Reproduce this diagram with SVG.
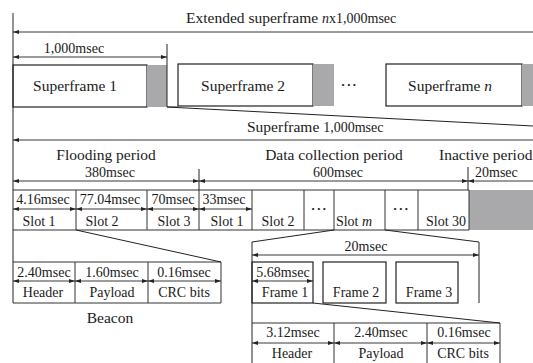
<svg xmlns="http://www.w3.org/2000/svg" width="533" height="363" viewBox="0 0 533 363" font-family="'Liberation Serif', 'DejaVu Serif', serif">
<style>
text{font-family:'Liberation Serif','DejaVu Serif',serif;fill:#1a1a1a}
.big{font-size:15.5px}
.sm{font-size:14px}
.m{text-anchor:middle}
.box{fill:#fff;stroke:#222;stroke-width:1.2}
.cell{fill:none;stroke:#333;stroke-width:1}
.gray{fill:#a9a9ab;stroke:none}
.ln{stroke:#222;stroke-width:1;fill:none}
.ar{stroke:#222;stroke-width:0.9;fill:none;marker-start:url(#ah);}
.ar2{stroke:#222;stroke-width:0.9;fill:none;marker-start:url(#ah);marker-end:url(#ah)}
.dots{font-size:9px;letter-spacing:2.5px;text-anchor:middle}
</style>
<defs>
<marker id="ah" viewBox="0 0 6 4" refX="6" refY="2" markerWidth="6" markerHeight="4" markerUnits="userSpaceOnUse" orient="auto-start-reverse">
<path d="M0,0 L6,2 L0,4 Z" fill="#222"/>
</marker>
</defs>
<rect width="533" height="363" fill="#fff"/>

<g id="extended-superframe">
<text class="big" x="186" y="23">Extended superframe <tspan class="sm" font-style="italic">n</tspan><tspan class="sm">x1,000msec</tspan></text>
</g>
<g id="superframe-length">
<text class="sm m" x="74" y="53">1,000msec</text>
</g>

<g id="superframe-1">
<rect class="box" x="13" y="65" width="134" height="42"/>
<rect class="gray" x="147" y="65" width="20" height="42"/>
<text class="big m" x="75" y="91">Superframe 1</text>
</g>
<g id="superframe-2">
<rect class="box" x="178" y="64" width="135" height="42"/>
<rect class="gray" x="313" y="64" width="21" height="42"/>
<text class="big m" x="243" y="91">Superframe 2</text>
</g>
<g id="dots-top"><text class="dots" x="350" y="88">•••</text></g>
<g id="superframe-n">
<rect class="box" x="386" y="64" width="136" height="42"/>
<rect class="gray" x="522" y="64" width="12" height="42"/>
<text class="big m" x="450" y="91">Superframe <tspan font-style="italic">n</tspan></text>
</g>

<g id="superframe-detail">
<text x="247" y="132"><tspan class="big">Superframe </tspan><tspan class="sm">1,000msec</tspan></text>
<text class="big m" x="106" y="160">Flooding period</text>
<text class="big m" x="334" y="160">Data collection period</text>
<text class="big" x="439" y="160">Inactive period</text>
<text class="sm m" x="110" y="177">380msec</text>
<text class="sm m" x="338" y="177">600msec</text>
<text class="sm" x="475" y="177">20msec</text>
</g>

<g id="slots">
<rect class="gray" x="469" y="190" width="64" height="40"/>
<path class="cell" d="M13,190 H469 V230 H13 M76,190 V230 M147,190 V230 M199,190 V230 M252,190 V230 M304,190 V230 M334,190 V230 M385,190 V230 M418,190 V230"/>
<text class="sm m" x="43" y="204">4.16msec</text>
<text class="sm m" x="110" y="204">77.04msec</text>
<text class="sm m" x="173" y="204">70msec</text>
<text class="sm m" x="224" y="204">33msec</text>
<text class="sm m" x="39" y="226">Slot 1</text>
<text class="sm m" x="102" y="226">Slot 2</text>
<text class="sm m" x="174" y="226">Slot 3</text>
<text class="sm m" x="227" y="226">Slot 1</text>
<text class="sm m" x="278" y="226">Slot 2</text>
<text class="dots" x="320" y="212">•••</text>
<text class="sm m" x="354" y="226">Slot <tspan font-style="italic">m</tspan></text>
<text class="dots" x="402" y="212">•••</text>
<text class="sm m" x="446" y="226">Slot 30</text>
</g>

<g id="beacon">
<path class="cell" d="M13,262 H221 V303 H13 M75,262 V303 M148,262 V303"/>
<text class="sm m" x="44" y="277">2.40msec</text>
<text class="sm m" x="112" y="277">1.60msec</text>
<text class="sm m" x="184" y="277">0.16msec</text>
<text class="sm m" x="43" y="297">Header</text>
<text class="sm m" x="112" y="297">Payload</text>
<text class="sm m" x="184" y="297">CRC bits</text>
<text class="big m" x="110" y="323">Beacon</text>
</g>

<g id="frames">
<text class="sm m" x="366" y="251">20msec</text>
<rect class="box" x="252" y="262" width="61" height="41"/>
<rect class="box" x="323" y="262" width="63" height="41"/>
<rect class="box" x="396" y="262" width="62" height="41"/>
<text class="sm m" x="283" y="277">5.68msec</text>
<text class="sm m" x="285" y="297">Frame 1</text>
<text class="sm m" x="356" y="297">Frame 2</text>
<text class="sm m" x="429" y="297">Frame 3</text>
</g>

<g id="frame-detail">
<path class="cell" d="M252,323 H500 V363 M334,323 V363 M427,323 V363"/>
<text class="sm m" x="293" y="337">3.12msec</text>
<text class="sm m" x="381" y="337">2.40msec</text>
<text class="sm m" x="464" y="337">0.16msec</text>
<text class="sm m" x="292" y="358">Header</text>
<text class="sm m" x="381" y="358">Payload</text>
<text class="sm m" x="463" y="358">CRC bits</text>
</g>

<g id="connectors">
<path class="ln" d="M13,13 V303"/>
<path class="ln" d="M167,44 V107 H178"/>
<path class="ln" d="M167,107 L533,126"/>
<path class="ln" d="M199,169 V190"/>
<path class="ln" d="M468,167 V190"/>
<path class="ln" d="M76,230 L221,262"/>
<path class="ln" d="M334,230 L252,242 V363"/>
<path class="ln" d="M385,230 L479,242 V303"/>
<path class="ln" d="M313,303 L500,323"/>
<path class="ar" d="M13,32 H533"/>
<path class="ar2" d="M13,57 H167"/>
<path class="ar" d="M13,140 H533"/>
<path class="ar2" d="M13,181 H199"/>
<path class="ar2" d="M199,181 H468"/>
<path class="ar" d="M468,181 H533"/>
<path class="ar2" d="M13,209 H76"/>
<path class="ar2" d="M76,209 H147"/>
<path class="ar2" d="M147,209 H199"/>
<path class="ar2" d="M199,209 H252"/>
<path class="ar2" d="M13,281 H75"/>
<path class="ar2" d="M75,281 H148"/>
<path class="ar2" d="M148,281 H221"/>
<path class="ar2" d="M252,255 H479"/>
<path class="ar2" d="M252,281 H313"/>
<path class="ar2" d="M252,343 H334"/>
<path class="ar2" d="M334,343 H427"/>
<path class="ar2" d="M427,343 H500"/>
</g>
</svg>
